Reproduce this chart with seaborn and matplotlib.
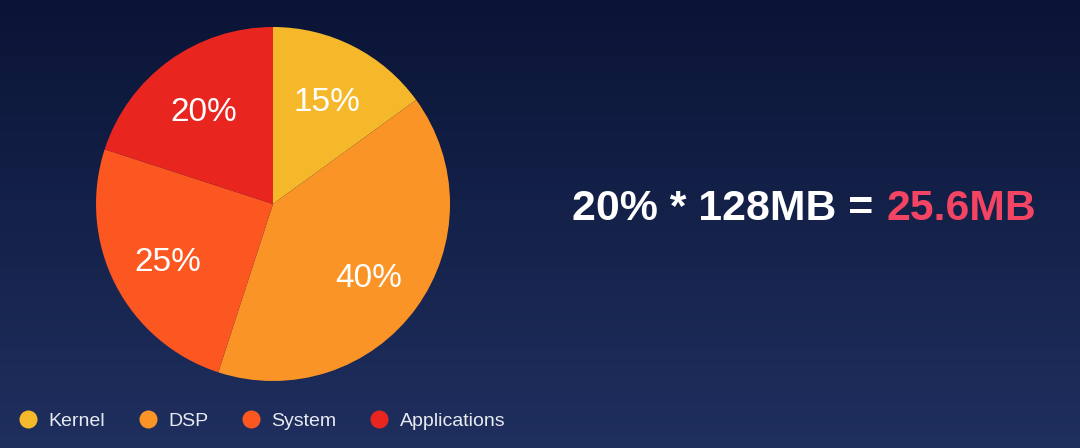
import numpy as np
import matplotlib
matplotlib.use("Agg")
import matplotlib.pyplot as plt
from matplotlib.lines import Line2D
import seaborn as sns

# data
labels = ["Kernel", "DSP", "System", "Applications"]
shares = [15, 40, 25, 20]
colors = ["#F6B82B", "#FB9426", "#FC5621", "#E8261F"]

eq_left = "20% * 128MB ="
eq_right = "25.6MB"

sns.set_theme(style="white")
plt.rcParams["font.family"] = ["Liberation Sans", "DejaVu Sans"]

fig = plt.figure(figsize=(10.8, 4.48), dpi=100)

# background gradient
bg = fig.add_axes([0, 0, 1, 1], zorder=0)
grad = np.linspace(0, 1, 256).reshape(-1, 1)
cmap = matplotlib.colors.LinearSegmentedColormap.from_list("bg", ["#0a1436", "#1f2f5e"])
bg.imshow(grad, aspect="auto", cmap=cmap, extent=[0, 1, 0, 1], origin="upper")
bg.set_axis_off()

# pie
ax = fig.add_axes([96 / 1080, 67 / 448, 354 / 1080, 354 / 448], zorder=1)
ax.patch.set_alpha(0)
wedges, texts, autotexts = ax.pie(
    shares, colors=colors, startangle=90, counterclock=False,
    autopct="%d%%", pctdistance=0.67,
    textprops={"color": "white", "fontsize": 24},
    wedgeprops={"linewidth": 0},
)
for t in autotexts:
    x, y = t.get_position()
    t.set_position((x, y - 0.025))
ax.set_xlim(-1, 1)
ax.set_ylim(-1, 1)
ax.set_aspect("equal")

# equation
fig.text(873 / 1080, 1 - 220 / 448, eq_left, ha="right", va="baseline",
         color="white", fontsize=30.8, fontweight="bold")
fig.text(886 / 1080, 1 - 220 / 448, eq_right, ha="left", va="baseline",
         color="#F44463", fontsize=30.8, fontweight="bold")

# legend
handles = [Line2D([], [], marker="o", linestyle="none", markersize=13,
                  markerfacecolor=c, markeredgewidth=0) for c in colors]
leg = fig.legend(handles, labels, loc="center left",
                 bbox_to_anchor=(18 / 1080, 1 - 421 / 448), ncol=4,
                 frameon=False, fontsize=14, handlelength=1.0,
                 handletextpad=0.55, columnspacing=1.7,
                 borderpad=0, borderaxespad=0)
for t in leg.get_texts():
    t.set_color("#e8eaf2")

fig.savefig("out.png", dpi=100)
